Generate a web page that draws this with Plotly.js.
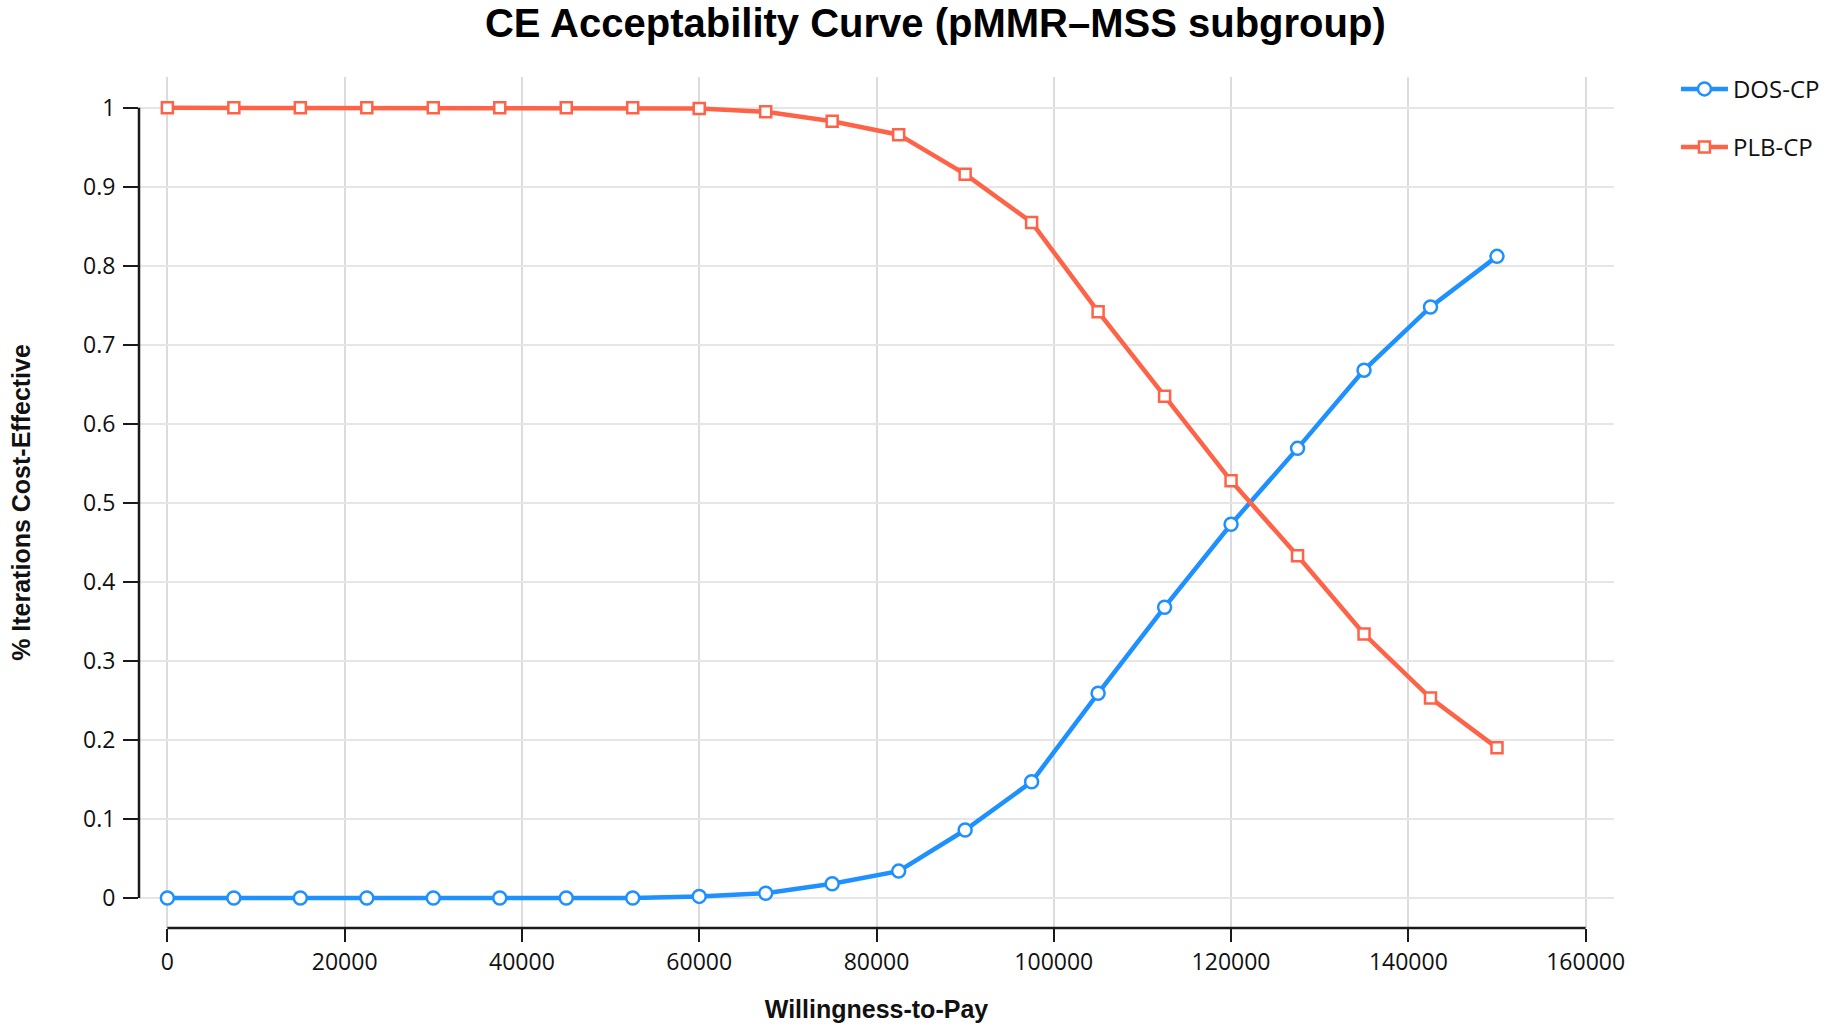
<!DOCTYPE html>
<html>
<head>
<meta charset="utf-8">
<script src="https://cdn.plot.ly/plotly-3.0.1.min.js"></script>
<style>
html,body{margin:0;padding:0;background:#fff;}
#chart{width:1834px;height:1026px;}
</style>
</head>
<body>
<div id="chart"></div>
<script>
// Willingness-to-pay thresholds
const wtp = [0, 7500, 15000, 22500, 30000, 37500, 45000, 52500, 60000, 67500, 75000,
             82500, 90000, 97500, 105000, 112500, 120000, 127500, 135000, 142500, 150000];
// Probability cost-effective
const dosCP = [0, 0, 0, 0, 0, 0, 0, 0, 0.002, 0.006, 0.018, 0.034, 0.086, 0.147, 0.259,
               0.368, 0.473, 0.569, 0.668, 0.748, 0.812];
const plbCP = [1, 1, 1, 1, 1, 1, 1, 1, 0.999, 0.995, 0.983, 0.966, 0.916, 0.855, 0.742,
               0.635, 0.528, 0.433, 0.334, 0.253, 0.190];
const seriesNames = ['DOS-CP', 'PLB-CP'];
const xTicks = [0, 20000, 40000, 60000, 80000, 100000, 120000, 140000, 160000];
const yTicks = [0, 0.1, 0.2, 0.3, 0.4, 0.5, 0.6, 0.7, 0.8, 0.9, 1];

const blue = '#1e90ff';
const red = '#ff6347';
const tickFont = {family: 'Open Sans, Noto Sans, sans-serif', size: 23, color: '#111'};
const boldFont = {family: 'Liberation Sans, Arial, sans-serif', size: 25, color: '#111', weight: 'bold'};

const traces = [
  {
    x: wtp, y: dosCP, name: seriesNames[0], type: 'scatter', mode: 'lines+markers',
    legendgroup: 'a',
    line: {color: blue, width: 4.5},
    marker: {symbol: 'circle', size: 13, color: '#fff', line: {color: blue, width: 2.5}}
  },
  {
    x: wtp, y: plbCP, name: seriesNames[1], type: 'scatter', mode: 'lines+markers',
    legendgroup: 'b',
    line: {color: red, width: 4.5},
    marker: {symbol: 'square', size: 11, color: '#fff', line: {color: red, width: 2.5}}
  }
];

const layout = {
  width: 1834, height: 1026,
  margin: {l: 139, r: 220, t: 77, b: 98, autoexpand: false},
  paper_bgcolor: '#fff', plot_bgcolor: '#fff',
  title: {
    text: '<b>CE Acceptability Curve (pMMR–MSS subgroup)</b>',
    font: {family: 'Liberation Sans, Arial, sans-serif', size: 40, color: '#000'},
    xref: 'container', x: 0.51, xanchor: 'center',
    yref: 'container', y: 0.978, yanchor: 'middle'
  },
  xaxis: {
    range: [-3200, 163200],
    tickvals: xTicks, tickformat: 'd',
    ticks: 'outside', ticklen: 13, tickwidth: 2, tickcolor: '#1a1a1a',
    tickfont: tickFont,
    showline: false, zeroline: false,
    showgrid: true, gridcolor: '#dcdcdc', gridwidth: 2,
    title: {text: '<b>Willingness-to-Pay</b>', font: boldFont, standoff: 24}
  },
  yaxis: {
    range: [-0.038, 1.039],
    tickvals: yTicks,
    ticks: 'outside', ticklen: 15, tickwidth: 2, tickcolor: '#1a1a1a',
    tickfont: tickFont, ticklabelstandoff: 3,
    showline: false, zeroline: false,
    showgrid: true, gridcolor: '#e6e6e6', gridwidth: 2,
    title: {text: '<b>% Iterations Cost-Effective</b>', font: boldFont, standoff: 45}
  },
  shapes: [
    {type: 'line', xref: 'paper', yref: 'y', x0: 0, x1: 0, y0: 0, y1: 1,
     line: {color: '#1a1a1a', width: 2.5}},
    {type: 'line', xref: 'x', yref: 'paper', x0: 0, x1: 160000, y0: 0, y1: 0,
     line: {color: '#1a1a1a', width: 2.5}}
  ],
  showlegend: true,
  legend: {
    x: 1.042, xanchor: 'left', y: 1.012, yanchor: 'top',
    traceorder: 'grouped', tracegroupgap: 24, itemwidth: 47,
    font: {family: 'Open Sans, Noto Sans, sans-serif', size: 24, color: '#111'},
    bgcolor: 'rgba(0,0,0,0)'
  }
};

Plotly.newPlot('chart', traces, layout, {displayModeBar: false, staticPlot: true});
</script>
</body>
</html>
